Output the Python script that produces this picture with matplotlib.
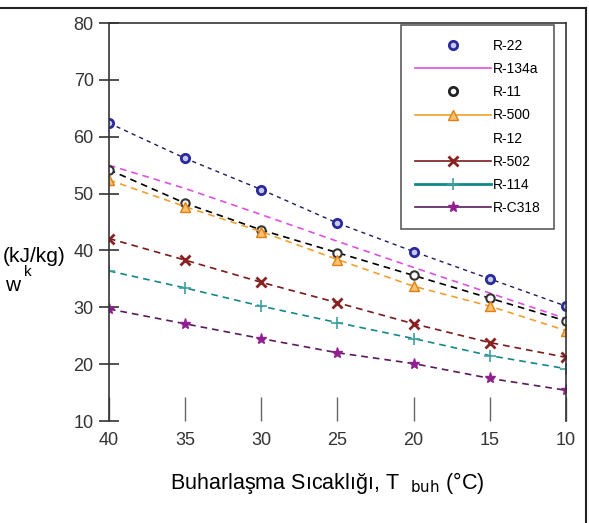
import numpy as np
import matplotlib.pyplot as plt
from matplotlib.lines import Line2D

# evaporation temperature (axis runs 40 -> 10)
temps = [40, 35, 30, 25, 20, 15, 10]

r22 = [62.4, 56.2, 50.7, 44.8, 39.8, 35.0, 30.2]
r134a = [55.0, 50.9, 46.3, 41.6, 37.0, 32.5, 28.0]
r11 = [54.2, 48.3, 43.6, 39.6, 35.6, 31.6, 27.6]
r500 = [52.4, 47.7, 43.3, 38.4, 33.7, 30.2, 25.9]
r502 = [42.1, 38.3, 34.4, 30.8, 27.1, 23.8, 21.2]
r114 = [36.4, 33.4, 30.2, 27.3, 24.5, 21.5, 19.2]
rc318 = [29.7, 27.1, 24.5, 22.0, 20.1, 17.5, 15.4]

yticks = [10, 20, 30, 40, 50, 60, 70, 80]
names = ["R-22", "R-134a", "R-11", "R-500", "R-12", "R-502", "R-114", "R-C318"]

plt.rcParams["font.family"] = ["Liberation Sans", "DejaVu Sans"]

fig = plt.figure(figsize=(5.89, 5.23), dpi=100)
ax = fig.add_axes([0.185, 0.195, 0.776, 0.761])

ds = (4, 3)
ax.plot(temps, r22, color="#1c1c5a", lw=1, dashes=(3, 3), marker="o", ms=6,
        mfc="#c8c8f0", mec="#2a2a9a", mew=2)
ax.plot(temps, r134a, color="#e050e0", lw=1.2, dashes=ds)
ax.plot(temps, r11, color="black", lw=1.2, dashes=ds, marker="o", ms=6,
        mfc="white", mec="#333333", mew=1.5)
ax.plot(temps, r500, color="#f0a030", lw=1.2, dashes=ds, marker="^", ms=7,
        mfc="#f8c070", mec="#e08010")
ax.plot(temps, r502, color="#7a1a1a", lw=1.2, dashes=ds, marker="x", ms=7,
        mew=2, mec="#8a2020")
ax.plot(temps, r114, color="#148888", lw=1.2, dashes=ds, marker="+", ms=8,
        mew=1.2, mec="#40a0a0")
ax.plot(temps, rc318, color="#5a1a5a", lw=1.2, dashes=ds, marker="*", ms=8,
        mfc="#902090", mec="#902090")

ax.set_xlim(40, 10)
ax.set_ylim(10, 80)
ax.set_xticks(temps)
ax.set_yticks(yticks)
ax.tick_params(axis="y", direction="inout", length=14, width=1.2, pad=4,
               labelsize=13, labelcolor="#333333", color="#333333")
ax.tick_params(axis="x", direction="in", length=17, width=1, pad=8,
               labelsize=13, labelcolor="#333333", color="#666666")
ax.spines["bottom"].set_visible(False)
for s in ["left", "right", "top"]:
    ax.spines[s].set_color("#333333")
    ax.spines[s].set_linewidth(1.2)

handles = [
    Line2D([], [], ls="none", marker="o", ms=6, mfc="#c8c8f0", mec="#2a2a9a", mew=2),
    Line2D([], [], color="#e050e0", lw=1.2),
    Line2D([], [], ls="none", marker="o", ms=6, mfc="white", mec="#222222", mew=2),
    Line2D([], [], color="#f0a030", lw=1.2, marker="^", ms=7, mfc="#f8c070", mec="#e08010"),
    Line2D([], [], ls="none"),
    Line2D([], [], color="#7a1a1a", lw=1.2, marker="x", ms=7, mew=2, mec="#8a2020"),
    Line2D([], [], color="#148888", lw=2, marker="+", ms=8, mew=1.2, mec="#40a0a0"),
    Line2D([], [], color="#5a1a5a", lw=1.2, marker="*", ms=8, mfc="#902090", mec="#902090"),
]
leg = ax.legend(handles, names, loc="upper right", bbox_to_anchor=(0.974, 0.995),
                borderaxespad=0, prop={"size": 10}, handlelength=5.5,
                handletextpad=0.1, labelspacing=0.66, borderpad=1.0,
                frameon=True, fancybox=False, edgecolor="#333333")
leg.get_frame().set_linewidth(1.2)

fig.text(0.556, 0.076, r"Buharlaşma Sıcaklığı, T  $_{\mathrm{buh}}$ (°C)",
         ha="center", va="center", fontsize=15.5)
fig.text(0.004, 0.509, "(kJ/kg)", ha="left", va="center", fontsize=15)
fig.text(0.040, 0.480, "k", ha="left", va="center", fontsize=11)
fig.text(0.008, 0.455, "w", ha="left", va="center", fontsize=15)

# partial frame: top and right edges only
fig.add_artist(Line2D([0, 0.995], [0.985, 0.985], transform=fig.transFigure,
                      color="#222222", lw=1.5))
fig.add_artist(Line2D([0.995, 0.995], [0, 0.985], transform=fig.transFigure,
                      color="#222222", lw=1.5))

fig.savefig("out.png", dpi=100)
